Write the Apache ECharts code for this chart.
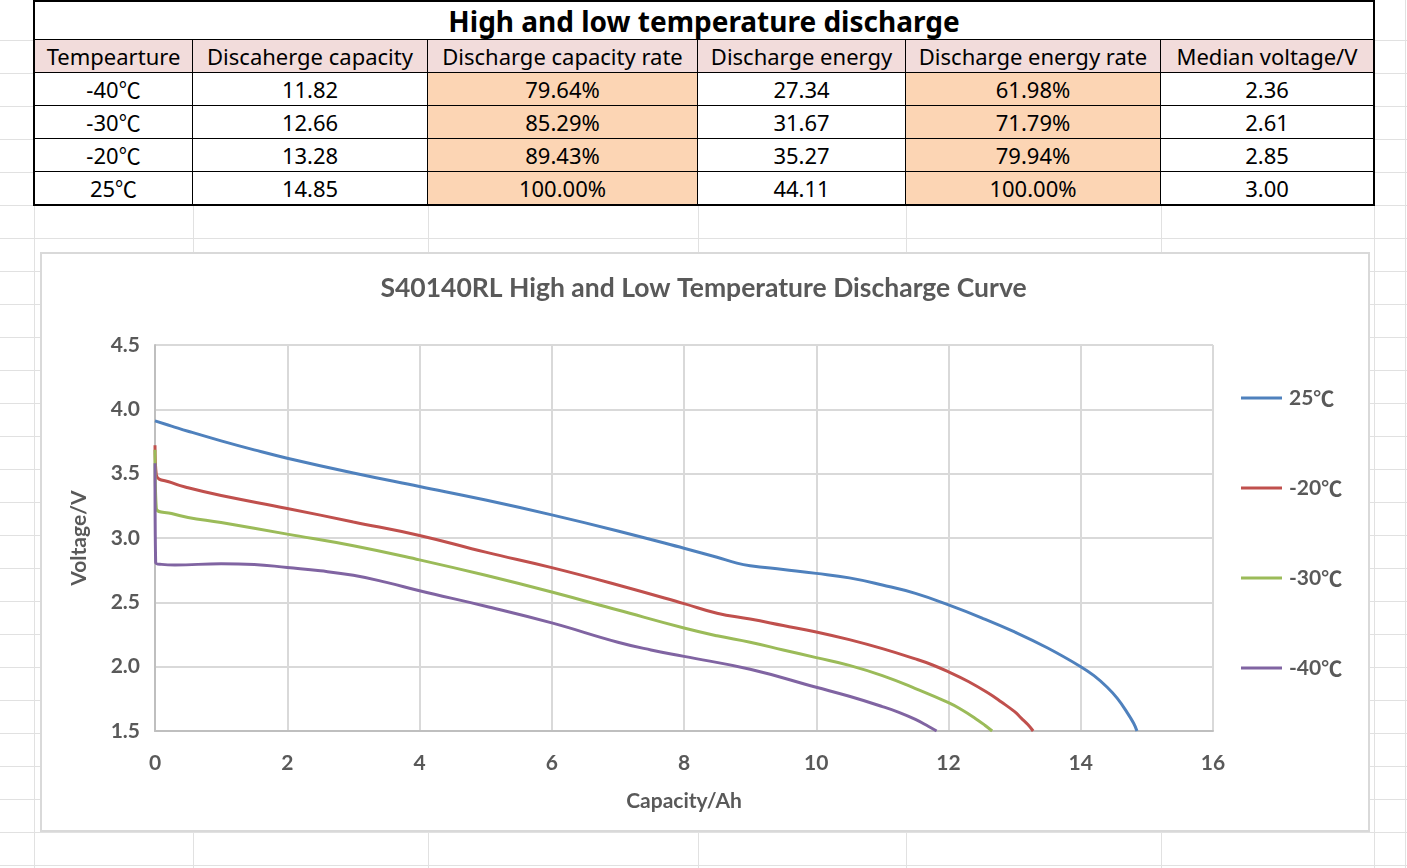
<!DOCTYPE html>
<html>
<head>
<meta charset="utf-8">
<script src="https://cdn.jsdelivr.net/npm/echarts@6/dist/echarts.min.js"></script>
<style>
  html, body { margin:0; padding:0; background:#fff; width:1407px; height:868px; overflow:hidden; }
  #sheet { position:absolute; left:0; top:0; width:1407px; height:868px; }
  .hl { position:absolute; left:0; width:1407px; height:1px; background:#e1e1e1; }
  .vl { position:absolute; top:0; width:1px; height:868px; background:#e1e1e1; }
  #tbl { position:absolute; left:33px; top:0; width:1342px; height:206px; box-sizing:border-box;
         border:2px solid #000; display:grid; background:#fff;
         grid-template-columns:158px 235px 270px 208px 255px 212px;
         grid-template-rows:38px 33px 33px 33px 33px 32px;
         font-family:"Noto Sans","Open Sans",sans-serif; color:#000; }
  .c { box-sizing:border-box; border-right:1px solid #000; border-bottom:1px solid #000;
       display:flex; align-items:center; justify-content:center; font-size:22px; white-space:nowrap; overflow:hidden; }
  .c.lastc { border-right:none; }
  .c.lastr { border-bottom:none; }
  .c.hdr { background:#f2dcdb; }
  .c.org { background:#fcd5b4; }
  .c.title { grid-column:1 / -1; font-weight:bold; font-size:28px; border-right:none; }
  .cjk { font-family:"Noto Sans CJK SC",sans-serif; position:relative; top:-1px; }
  #box { position:absolute; left:40px; top:252px; width:1330px; height:580px; box-sizing:border-box;
         border:2px solid #d9d9d9; background:#fff; }
  #chart { position:absolute; left:0; top:0; width:1407px; height:868px; }
</style>
</head>
<body>
<div id="sheet"></div>
<div id="tbl"></div>
<div id="box"></div>
<div id="chart"></div>
<script>
// ---- table data ----
const tableTitle = 'High and low temperature discharge';
const headers = ['Tempearture','Discaherge capacity','Discharge capacity rate','Discharge energy','Discharge energy rate','Median voltage/V'];
const temps = ['-40℃','-30℃','-20℃','25℃'];
const capacity = ['11.82','12.66','13.28','14.85'];
const capRate = ['79.64%','85.29%','89.43%','100.00%'];
const energy = ['27.34','31.67','35.27','44.11'];
const energyRate = ['61.98%','71.79%','79.94%','100.00%'];
const medianV = ['2.36','2.61','2.85','3.00'];

// ---- chart data ----
const chartTitle = 'S40140RL High and Low Temperature Discharge Curve';
const seriesNames = ['25℃','-20℃','-30℃','-40℃'];
const d25 = [[0,3.91],[0.25,3.87],[0.5,3.83],[1,3.755],[1.5,3.685],[2,3.62],[3,3.505],[4,3.40],[5,3.295],[6,3.18],[7,3.055],[8,2.92],[8.5,2.85],[8.8,2.805],[9,2.785],[9.5,2.755],[10,2.725],[10.5,2.69],[11,2.635],[11.5,2.57],[12,2.48],[12.5,2.38],[13,2.27],[13.5,2.145],[14,2.0],[14.2,1.93],[14.4,1.84],[14.55,1.755],[14.7,1.645],[14.8,1.56],[14.85,1.5]];
const dm20 = [[0,3.72],[0.02,3.49],[0.25,3.43],[0.5,3.39],[1,3.33],[2,3.23],[3,3.125],[4,3.02],[5,2.89],[6,2.77],[7,2.635],[8,2.49],[8.5,2.415],[9,2.37],[9.5,2.32],[10,2.27],[10.5,2.21],[11,2.14],[11.5,2.06],[11.75,2.015],[12,1.96],[12.3,1.885],[12.6,1.795],[12.8,1.725],[13,1.65],[13.1,1.60],[13.2,1.55],[13.28,1.5]];
const dm30 = [[0,3.685],[0.02,3.23],[0.25,3.19],[0.5,3.16],[1,3.12],[2,3.03],[3,2.94],[4,2.83],[5,2.71],[6,2.58],[7,2.44],[8,2.30],[8.5,2.24],[9,2.19],[9.5,2.13],[10,2.07],[10.5,2.01],[11,1.93],[11.5,1.83],[12,1.72],[12.2,1.665],[12.4,1.60],[12.55,1.545],[12.66,1.5]];
const dm40 = [[0,3.58],[0.01,2.81],[0.1,2.795],[0.3,2.79],[1,2.80],[1.5,2.795],[2,2.77],[2.5,2.745],[3,2.71],[3.5,2.655],[4,2.59],[5,2.47],[6,2.34],[7,2.19],[7.5,2.13],[8,2.08],[9,1.98],[10,1.84],[10.5,1.77],[11,1.69],[11.25,1.645],[11.5,1.59],[11.7,1.535],[11.82,1.5]];
const seriesData = [d25, dm20, dm30, dm40];
const colors = ['#4f81bd','#c0504d','#9bbb59','#8064a2'];

// ---- spreadsheet background grid ----
const sheet = document.getElementById('sheet');
for (let y = 40; y < 868; y += 33) { const d = document.createElement('div'); d.className='hl'; d.style.top = y+'px'; sheet.appendChild(d); }
[34,193,428,698,906,1161,1374,1405].forEach(x => { const d = document.createElement('div'); d.className='vl'; d.style.left = x+'px'; sheet.appendChild(d); });

// ---- table ----
const tbl = document.getElementById('tbl');
function cell(text, cls) {
  const d = document.createElement('div'); d.className = 'c ' + cls;
  const parts = text.split('℃');
  d.appendChild(document.createTextNode(parts[0]));
  if (parts.length > 1) { const s = document.createElement('span'); s.className = 'cjk'; s.textContent = '℃'; d.appendChild(s); }
  tbl.appendChild(d);
}
cell(tableTitle, 'title');
headers.forEach((h,i) => cell(h, 'hdr' + (i===5?' lastc':'')));
const cols = [temps, capacity, capRate, energy, energyRate, medianV];
for (let r = 0; r < temps.length; r++) {
  cols.forEach((col, i) => {
    let cls = '';
    if (i === 2 || i === 4) cls += ' org';
    if (i === 5) cls += ' lastc';
    if (r === temps.length - 1) cls += ' lastr';
    cell(col[r], cls);
  });
}

// ---- chart ----
const chart = echarts.init(document.getElementById('chart'), null, {renderer:'canvas'});
const txt = '#595959';
const font = 'Lato, "Open Sans", sans-serif';
chart.setOption({
  backgroundColor: 'transparent',
  animation: false,
  title: { text: chartTitle, left: 'center', top: 270,
           textStyle: { color: txt, fontSize: 26.5, fontWeight: 'bold', fontFamily: font } },
  legend: { orient: 'vertical', left: 1241, top: 387, itemGap: 68, itemWidth: 41, itemHeight: 3, icon: 'rect',
            padding: 0, data: seriesNames,
            formatter: n => n.replace('℃', '{u|℃}'),
            textStyle: { color: txt, fontSize: 21, fontWeight: 'bold', fontFamily: font, lineHeight: 22, padding:[0,0,0,2],
                         rich: { u: { fontFamily: '"Noto Sans CJK SC"', fontSize: 21, fontWeight: 'bold', color: txt, lineHeight: 22 } } } },
  grid: { left: 155, right: 194, top: 345, bottom: 137, containLabel: false },
  xAxis: { type: 'value', min: 0, max: 16, interval: 2,
           name: 'Capacity/Ah', nameLocation: 'middle', nameGap: 60,
           nameTextStyle: { color: txt, fontSize: 21, fontWeight: 'bold', fontFamily: font },
           axisLine: { show: true, onZero: false, lineStyle: { color: '#bfbfbf', width: 2 } },
           axisTick: { show: false },
           axisLabel: { color: txt, fontSize: 21, fontWeight: 'bold', fontFamily: font, margin: 22 },
           splitLine: { show: true, lineStyle: { color: '#d9d9d9', width: 2 } } },
  yAxis: { type: 'value', min: 1.5, max: 4.5, interval: 0.5,
           name: 'Voltage/V', nameLocation: 'middle', nameGap: 65, nameRotate: 90,
           nameTextStyle: { color: txt, fontSize: 21, fontWeight: 'bold', fontFamily: font },
           axisLine: { show: true, lineStyle: { color: '#bfbfbf', width: 2 } },
           axisTick: { show: false },
           axisLabel: { color: txt, fontSize: 21, fontWeight: 'bold', fontFamily: font, margin: 15,
                        formatter: v => v.toFixed(1) },
           splitLine: { show: true, lineStyle: { color: '#d9d9d9', width: 2 } } },
  series: seriesNames.map((n, i) => ({
    name: n, type: 'line', data: seriesData[i], symbol: 'none', smooth: 0.45,
    lineStyle: { color: colors[i], width: 3 }, itemStyle: { color: colors[i] }, z: 2 + i
  }))
});
</script>
</body>
</html>
